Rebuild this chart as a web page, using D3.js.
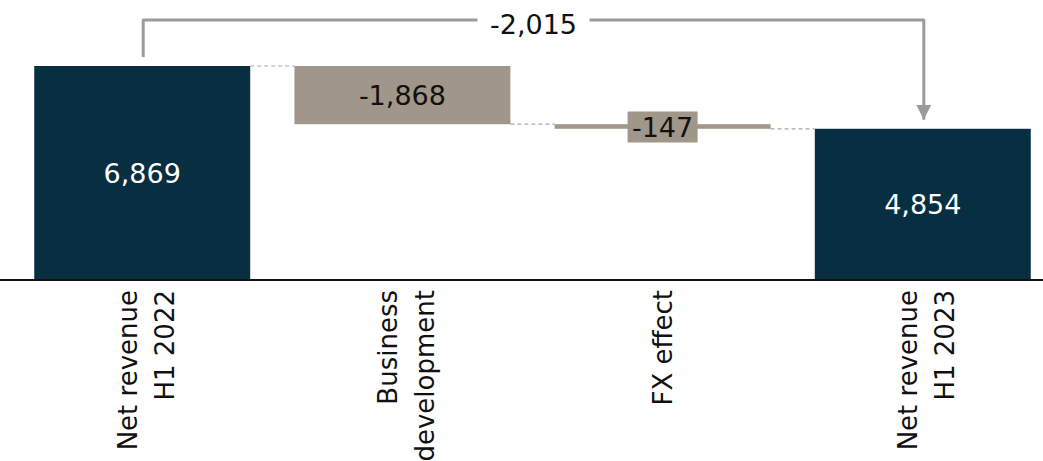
<!DOCTYPE html>
<meta charset="utf-8">
<style>
body { margin: 0; background: #fff; }
svg { display: block; }
.lbl { font: 27px "DejaVu Sans", Verdana, sans-serif; }
.cat { font: 26px "DejaVu Sans", Verdana, sans-serif; fill: #111; }
</style>
<body>
<svg width="1043" height="461"></svg>
<script src="https://d3js.org/d3.v7.min.js"></script>
<script>

// chart data
var categories = ["Net revenue|H1 2022", "Business|development", "FX effect", "Net revenue|H1 2023"];
var values = [6869, -1868, -147, 4854];
var kinds = ["total", "delta", "delta", "total"];
var totalChange = -2015;

var navy = "#082e42",
    taupe = "#a09689",
    grey = "#9b9b9b";

var svg = d3.select("svg");

var x = d3.scaleBand()
    .domain(categories)
    .range([-10, 1075])
    .paddingInner(0.17)
    .paddingOuter(0.17);

var y = d3.scaleLinear()
    .domain([0, 6869])
    .range([280, 66]);

// running totals for the waterfall
var run = 0;
var steps = categories.map(function(c, i) {
  var s = {cat: c, v: values[i], kind: kinds[i]};
  if (kinds[i] == "total") { s.y0 = 0; s.y1 = values[i]; }
  else { s.y0 = run; s.y1 = run + values[i]; }
  run = s.y1;
  return s;
});

var fmt = function(v) { return d3.format(",")(v).replace("−", "-"); };

// dashed connectors
for (var i = 0; i < steps.length - 1; i++) {
  svg.append("line")
    .attr("x1", x(steps[i].cat) + x.bandwidth())
    .attr("x2", x(steps[i+1].cat))
    .attr("y1", y(steps[i].y1)).attr("y2", y(steps[i].y1))
    .attr("stroke", "#aaa").attr("stroke-width", 1.2)
    .attr("stroke-dasharray", "4,3");
}

// bars
svg.selectAll(".bar")
  .data(steps)
  .enter().append("rect")
    .attr("class", "bar")
    .attr("x", function(d) { return x(d.cat); })
    .attr("width", x.bandwidth())
    .attr("y", function(d) { return y(Math.max(d.y0, d.y1)); })
    .attr("height", function(d) { return Math.abs(y(d.y0) - y(d.y1)); })
    .attr("fill", function(d) { return d.kind == "total" ? navy : taupe; });

// value labels
steps.forEach(function(d) {
  var cx = x(d.cat) + x.bandwidth() / 2;
  var cy = (y(d.y0) + y(d.y1)) / 2;
  if (Math.abs(y(d.y0) - y(d.y1)) < 30) {
    // thin bar: label sits in its own box
    svg.append("rect")
      .attr("x", cx - 35).attr("y", cy - 15)
      .attr("width", 70).attr("height", 31)
      .attr("fill", taupe);
    svg.append("text").attr("class", "lbl")
      .attr("x", cx).attr("y", cy + 1)
      .attr("text-anchor", "middle").attr("dominant-baseline", "central")
      .attr("fill", "#111").text(fmt(d.v));
  } else {
    svg.append("text").attr("class", "lbl")
      .attr("x", cx).attr("y", cy)
      .attr("text-anchor", "middle").attr("dominant-baseline", "central")
      .attr("fill", d.kind == "total" ? "#fff" : "#111")
      .text(fmt(d.v));
  }
});

// baseline
svg.append("line")
  .attr("x1", 0).attr("x2", 1043)
  .attr("y1", 280).attr("y2", 280)
  .attr("stroke", "#111").attr("stroke-width", 2);

// category labels, rotated
steps.forEach(function(d) {
  var lines = d.cat.split("|");
  var cx = x(d.cat) + x.bandwidth() / 2;
  var gap = 37;
  var shift = lines.length > 1 ? 4 : 0;
  lines.forEach(function(ln, j) {
    var px = cx + shift + (j - (lines.length - 1) / 2) * gap + 9;
    svg.append("text").attr("class", "cat")
      .attr("transform", "translate(" + px + ",290) rotate(-90)")
      .attr("text-anchor", "end")
      .text(ln);
  });
});

// total change bracket arrow
var xa = x(categories[0]) + x.bandwidth() / 2 + 1,
    xb = x(categories[3]) + x.bandwidth() / 2 + 1,
    topY = 20;
svg.append("defs").append("marker")
  .attr("id", "ah").attr("viewBox", "0 0 10 10")
  .attr("refX", 10).attr("refY", 5)
  .attr("markerWidth", 5).attr("markerHeight", 5)
  .attr("markerUnits", "strokeWidth")
  .attr("orient", "auto")
  .append("path").attr("d", "M0,0L10,5L0,10z").attr("fill", grey);

svg.append("path")
  .attr("d", "M" + xa + "," + (y(6869) - 9) + "V" + topY + "H" + xb + "V" + (y(4854) - 9))
  .attr("fill", "none").attr("stroke", grey).attr("stroke-width", 3)
  .attr("stroke-linejoin", "round")
  .attr("marker-end", "url(#ah)");

var mid = (xa + xb) / 2;
svg.append("rect").attr("x", mid - 56).attr("y", 4).attr("width", 112).attr("height", 34).attr("fill", "#fff");
svg.append("text").attr("class", "lbl")
  .attr("x", mid).attr("y", topY + 4)
  .attr("text-anchor", "middle").attr("dominant-baseline", "central")
  .attr("fill", "#111")
  .text(fmt(totalChange));

</script>
